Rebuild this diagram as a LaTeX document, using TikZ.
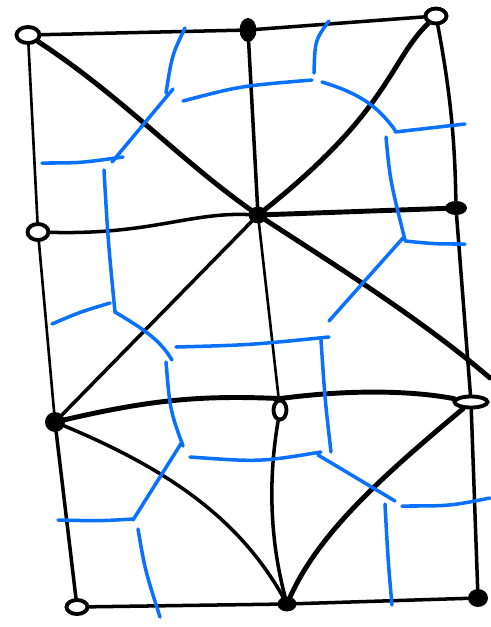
\documentclass[tikz,border=0pt]{standalone}
\usepackage{xcolor}
\usetikzlibrary{shapes.geometric}
\definecolor{dualblue}{RGB}{10,112,255}

\begin{document}
\begin{tikzpicture}[x=0.02cm, y=-0.02cm,
    vert/.style={ellipse, draw, line width=2.2pt, inner sep=0pt, minimum width=0.38cm, minimum height=0.3cm},
    dot/.style={vert, fill},
    edge/.style={line width=2pt, line cap=round},
    thin edge/.style={line width=1.5pt, line cap=round},
    heavy edge/.style={line width=2.8pt, line cap=round},
    dual/.style={dualblue, line width=2pt, line cap=round}]

    \useasboundingbox (0,0) rectangle (491,627);

    % vertices
    \node[vert, minimum width=0.46cm, minimum height=0.32cm] (tl) at (28,35) {};
    \node[dot, minimum width=0.26cm, minimum height=0.4cm] (tm) at (248,30) {};
    \node[vert, minimum width=0.42cm, minimum height=0.3cm] (tr) at (436,16) {};
    \node[vert, minimum width=0.42cm, minimum height=0.32cm] (ml) at (38,232) {};
    \node[dot, minimum width=0.3cm, minimum height=0.26cm] (c) at (258,215) {};
    \node[dot, minimum width=0.36cm, minimum height=0.2cm] (mr) at (456,208) {};
    \node[dot, minimum width=0.32cm, minimum height=0.32cm] (l3) at (55,422) {};
    \node[vert, minimum width=0.26cm, minimum height=0.38cm] (m3) at (280,410) {};
    \node[vert, minimum width=0.66cm, minimum height=0.22cm] (r3) at (471,402) {};
    \node[vert, minimum width=0.42cm, minimum height=0.28cm] (bl) at (77,607) {};
    \node[dot, minimum width=0.3cm, minimum height=0.22cm] (bm) at (287,604) {};
    \node[dot, minimum width=0.32cm, minimum height=0.28cm] (br) at (478,598) {};
    \coordinate (cr) at (490,378);

    % primal mesh
    \draw[edge] (tl) -- (tm) -- (tr);
    \draw[edge] (ml) .. controls (150,235) and (190,212) .. (c);
    \draw[heavy edge] (c) -- (mr);
    \draw[heavy edge] (l3) .. controls (150,400) and (200,395) .. (m3.north) .. controls (360,388) and (420,392) .. (r3);
    \draw[edge] (bl) -- (bm) -- (br);

    \draw[thin edge] (tl) -- (ml);
    \draw[thin edge] (ml) -- (l3);
    \draw[edge] (l3) -- (bl);
    \draw[edge] (tm) -- (c);
    \draw[thin edge] (c) -- (m3);
    \draw[edge] (m3) .. controls (268,480) and (270,540) .. (bm);
    \draw[edge] (tr) .. controls (452,100) and (455,150) .. (mr);
    \draw[edge] (mr) -- (r3);
    \draw[edge] (r3) -- (br);

    \draw[heavy edge] (tl) .. controls (120,95) and (180,160) .. (c);
    \draw[heavy edge] (tr) .. controls (390,60) and (390,110) .. (c);
    \draw[edge] (c) -- (l3);
    \draw[heavy edge] (c) .. controls (330,262) and (420,318) .. (cr);
    \draw[edge] (l3) .. controls (170,470) and (240,520) .. (bm);
    \draw[heavy edge] (r3) .. controls (390,470) and (320,530) .. (bm);

    % dual
    \draw[dual] (185,28) .. controls (172,55) .. (166,93);
    \draw[dual] (173,89) -- (112,162);
    \draw[dual] (42,163) .. controls (80,163) .. (123,157);
    \draw[dual] (104,170) .. controls (108,240) .. (115,312);
    \draw[dual] (183,101) .. controls (240,86) .. (312,80);
    \draw[dual] (329,21) .. controls (315,40) .. (314,73);
    \draw[dual] (322,82) .. controls (365,95) and (380,110) .. (395,130);
    \draw[dual] (395,132) .. controls (430,128) .. (465,124);
    \draw[dual] (386,137) .. controls (390,180) .. (405,240);
    \draw[dual] (405,241) .. controls (435,244) .. (465,244);
    \draw[dual] (403,238) -- (329,321);
    \draw[dual] (176,347) .. controls (250,345) .. (329,337);
    \draw[dual] (321,340) .. controls (325,400) .. (331,452);
    \draw[dual] (52,324) .. controls (80,312) .. (110,303);
    \draw[dual] (115,312) .. controls (145,330) and (160,340) .. (172,360);
    \draw[dual] (166,362) .. controls (170,410) .. (183,446);
    \draw[dual] (182,442) -- (133,520);
    \draw[dual] (58,520) .. controls (100,521) .. (133,519);
    \draw[dual] (138,529) .. controls (145,570) .. (160,617);
    \draw[dual] (190,457) .. controls (260,462) .. (321,452);
    \draw[dual] (318,455) -- (395,501);
    \draw[dual] (385,504) .. controls (388,560) .. (392,605);
    \draw[dual] (402,506) .. controls (450,506) .. (490,498);

\end{tikzpicture}
\end{document}
